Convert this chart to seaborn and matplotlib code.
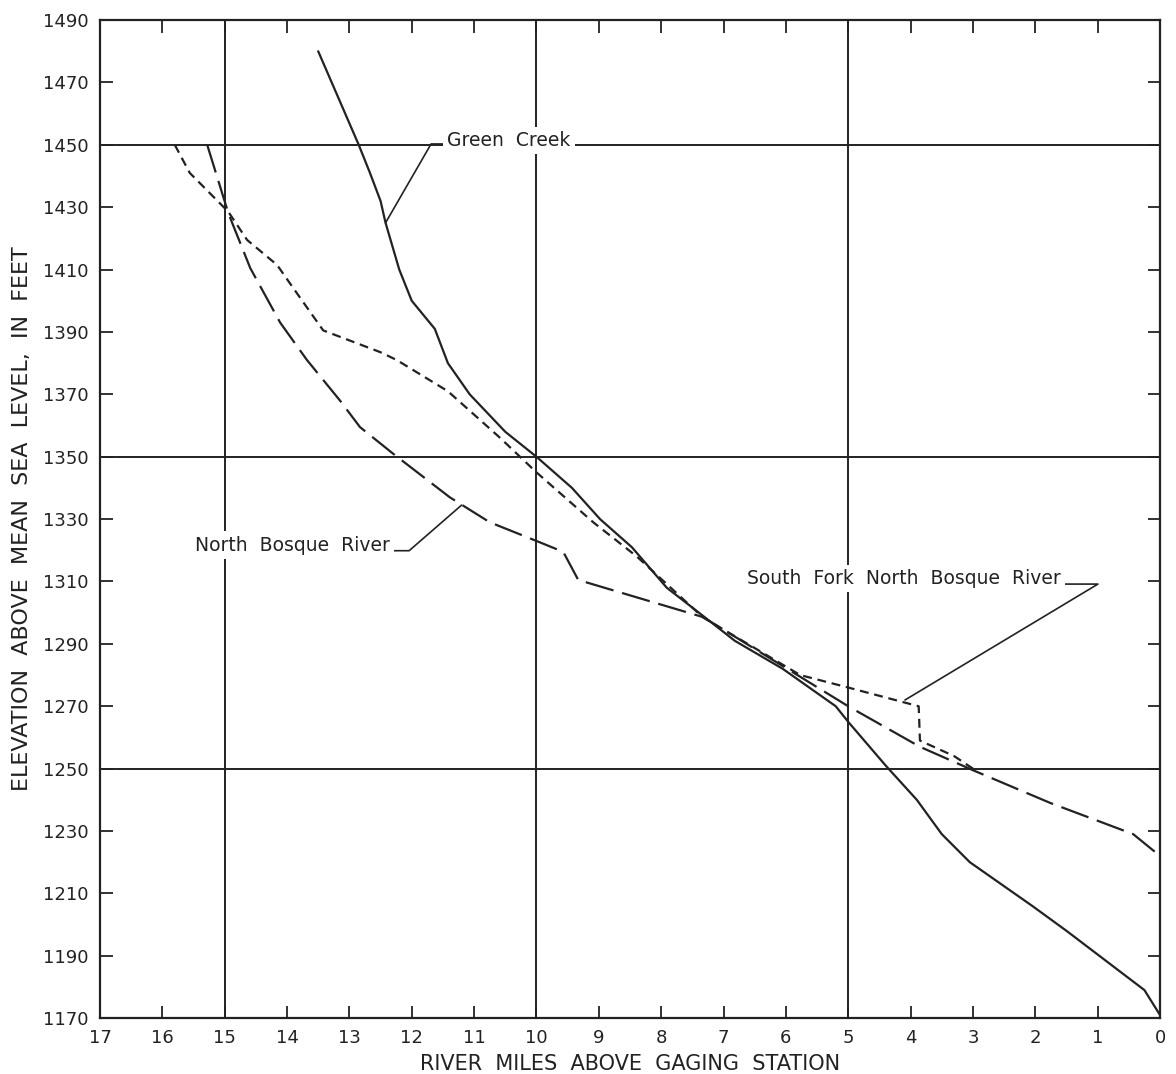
import matplotlib
matplotlib.use('Agg')
import matplotlib.pyplot as plt
import seaborn as sns
import pandas as pd

# river profiles (miles above gage, elevation ft)
green_miles = [13.5, 12.85, 12.67, 12.5, 12.42, 12.2, 12.0, 11.63, 11.42, 11.07, 10.5, 10.0,
               9.43, 8.98, 8.47, 7.91, 7.33, 6.82, 6.05, 5.2, 5.0, 4.4, 3.9, 3.5, 3.05,
               2.05, 1.5, 0.25, 0.0]
green_elev = [1480, 1450, 1441, 1432, 1425, 1410, 1400, 1391, 1380, 1370, 1358, 1350,
              1340, 1330, 1321, 1308, 1299, 1291, 1282, 1270, 1265, 1251, 1240, 1229, 1220,
              1206, 1198, 1179, 1171]

north_miles = [15.28, 14.94, 14.59, 14.11, 13.68, 13.15, 12.83, 12.3, 11.39, 10.75, 10.0,
               9.57, 9.33, 7.33, 5.0, 3.85, 3.0, 1.76, 0.43, 0.0]
north_elev = [1450, 1428, 1410.5, 1393, 1381, 1368, 1359.5, 1351, 1337, 1329, 1323,
              1319.5, 1310.5, 1298.6, 1270, 1257, 1249.5, 1239, 1229, 1222]

south_miles = [15.8, 15.56, 14.94, 14.64, 14.16, 13.95, 13.42, 12.5, 12.24, 11.42, 10.58,
               10.0, 9.09, 8.39, 7.33, 5.77, 5.0, 3.87, 3.85, 3.3, 3.0]
south_elev = [1450, 1441, 1428.5, 1419.5, 1411.5, 1405.5, 1390.5, 1383.5, 1381, 1371, 1356,
              1345, 1329, 1318, 1298.5, 1280, 1276, 1270, 1259, 1254, 1250]

mile_ticks = list(range(0, 18))
elev_ticks = list(range(1170, 1491, 20))
grid_miles = [15, 10, 5]
grid_elev = [1450, 1350, 1250]

df = pd.concat([
    pd.DataFrame({'miles': green_miles, 'elev': green_elev, 'river': 'Green Creek'}),
    pd.DataFrame({'miles': north_miles, 'elev': north_elev, 'river': 'North Bosque River'}),
    pd.DataFrame({'miles': south_miles, 'elev': south_elev,
                  'river': 'South Fork North Bosque River'}),
], ignore_index=True)

ink = '#222222'
sns.set_style('ticks')
plt.rcParams['font.family'] = ['DejaVu Sans']

fig = plt.figure(figsize=(11.76, 10.74), dpi=100)
ax = fig.add_axes([0.085, 0.052, 0.9014, 0.9293])

for m in grid_miles:
    ax.axvline(m, color=ink, lw=1.4, zorder=0.5)
for e in grid_elev:
    ax.axhline(e, color=ink, lw=1.4, zorder=0.5)

sns.lineplot(data=df, x='miles', y='elev', style='river',
             dashes={'Green Creek': '', 'North Bosque River': (13, 4),
                     'South Fork North Bosque River': (4, 2.6)},
             color=ink, linewidth=1.6, estimator=None, sort=False,
             legend=False, ax=ax, zorder=3)

ax.set_xlim(17, 0)
ax.set_ylim(1170, 1490)
ax.set_xticks(mile_ticks)
ax.set_yticks(elev_ticks)
ax.tick_params(direction='in', top=True, right=True, length=9, width=1.3,
               labelsize=13, colors=ink, pad=8)
for s in ax.spines.values():
    s.set_linewidth(1.6)
    s.set_color(ink)

ax.set_xlabel('RIVER  MILES  ABOVE  GAGING  STATION', fontsize=15, color=ink, labelpad=5)
ax.set_ylabel('ELEVATION  ABOVE  MEAN  SEA  LEVEL,  IN  FEET', fontsize=16, color=ink,
              labelpad=8)

box = dict(facecolor='white', edgecolor='none', pad=3)
lbl = dict(ha='left', va='center', fontsize=13.5, color=ink, bbox=box, zorder=4)
ax.annotate('Green  Creek', xy=(12.42, 1425), xytext=(11.43, 1451.5), **lbl,
            arrowprops=dict(arrowstyle='-', color=ink, lw=1.2, relpos=(0, 0.3),
                            shrinkA=0, shrinkB=0,
                            connectionstyle='angle,angleA=0,angleB=60,rad=0'))
ax.annotate('North  Bosque  River', xy=(11.2, 1334.5), xytext=(15.48, 1321.7), **lbl,
            arrowprops=dict(arrowstyle='-', color=ink, lw=1.2, relpos=(1, 0.2),
                            shrinkA=0, shrinkB=0,
                            connectionstyle='angle,angleA=0,angleB=41,rad=0'))
ax.annotate('South  Fork  North  Bosque  River', xy=(4.09, 1272), xytext=(6.62, 1311),
            **lbl,
            arrowprops=dict(arrowstyle='-', color=ink, lw=1.2, relpos=(1, 0.2),
                            shrinkA=0, shrinkB=0,
                            connectionstyle='angle,angleA=0,angleB=31,rad=0'))

fig.savefig('out.png', dpi=100)
